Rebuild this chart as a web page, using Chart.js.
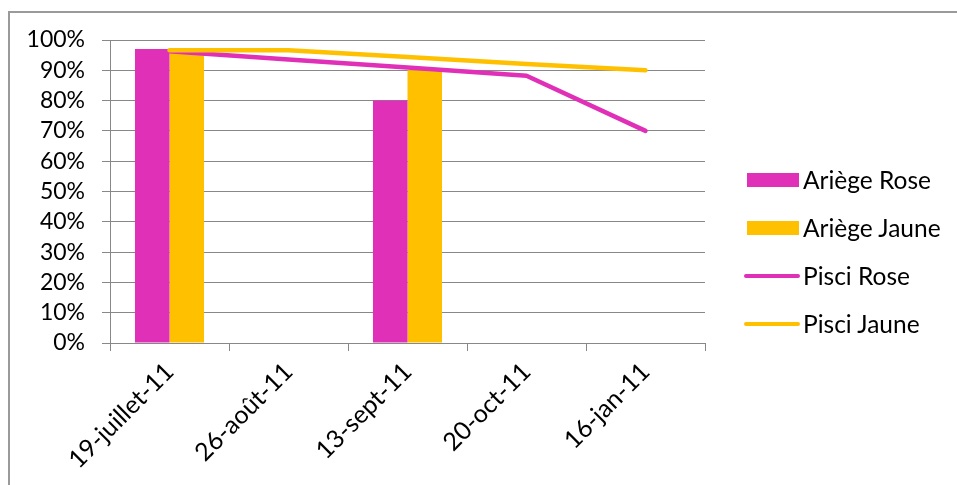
<!DOCTYPE html>
<html>
<head>
<meta charset="utf-8">
<script src="https://cdn.jsdelivr.net/npm/chart.js@4.4.1/dist/chart.umd.min.js"></script>
<style>
    body { margin: 0; background: #fff; overflow: hidden; }
    #wrap { position: relative; width: 957px; height: 485px; overflow: hidden; }
    #frame { position: absolute; left: 8px; top: 11px; width: 2000px; height: 2000px;
             border-left: 2px solid #9a9a9a; border-top: 2px solid #9a9a9a; }
    #chart { position: absolute; left: 0; top: 0; }
    #legend { position: absolute; left: 744px; top: 0; font-family: Lato, sans-serif; font-size: 24.5px; color: #000; }
    .item { position: absolute; left: 0; width: 220px; height: 30px; }
    .item span.txt { position: absolute; left: 59px; top: 0; line-height: 30px; white-space: nowrap; }
    .mark { position: absolute; }
</style>
</head>
<body>
<div id="wrap">
    <div id="frame"></div>
    <canvas id="chart" width="957" height="485"></canvas>
    <div id="legend"></div>
</div>
<script>
const categories = ['19-juillet-11', '26-août-11', '13-sept-11', '20-oct-11', '16-jan-11'];
const ariegeRose = [0.97, null, 0.80, null, null];
const ariegeJaune = [0.97, null, 0.90, null, null];
const pisciRose = [0.963, 0.936, 0.909, 0.882, 0.70];
const pisciJaune = [0.966, 0.966, 0.944, 0.921, 0.90];
const yTicks = [0, 0.1, 0.2, 0.3, 0.4, 0.5, 0.6, 0.7, 0.8, 0.9, 1];

const ROSE = '#E030B8';
const JAUNE = '#FFC000';
const GREY = '#888888';
const FONT = 'Lato, sans-serif';

document.addEventListener('DOMContentLoaded', function () {
    const ctx = document.getElementById('chart').getContext('2d');

    const datasets = [
        { type: 'bar', label: 'Ariège Rose', data: ariegeRose, backgroundColor: ROSE, order: 2 },
        { type: 'bar', label: 'Ariège Jaune', data: ariegeJaune, backgroundColor: JAUNE, order: 2 },
        { type: 'line', label: 'Pisci Rose', data: pisciRose, borderColor: ROSE, order: 1 },
        { type: 'line', label: 'Pisci Jaune', data: pisciJaune, borderColor: JAUNE, order: 0 }
    ];
    datasets.forEach(ds => {
        if (ds.type === 'bar') {
            ds.categoryPercentage = 0.58;
            ds.barPercentage = 1;
            ds.borderWidth = 0;
        } else {
            ds.borderWidth = 4.5;
            ds.pointRadius = 0;
            ds.borderCapStyle = 'round';
            ds.borderJoinStyle = 'round';
            ds.tension = 0;
            ds.fill = false;
        }
    });

    new Chart(ctx, {
        data: { labels: categories, datasets: datasets },
        options: {
            responsive: false,
            animation: false,
            devicePixelRatio: 1,
            layout: { padding: { left: 0, top: 40, right: 252, bottom: 0 } },
            plugins: { legend: { display: false }, tooltip: { enabled: false } },
            scales: {
                x: {
                    offset: true,
                    grid: { drawOnChartArea: false, drawTicks: true, tickLength: 8, color: GREY },
                    border: { display: true, color: GREY, width: 1 },
                    ticks: {
                        color: '#000', maxRotation: 45, minRotation: 45, padding: 6,
                        autoSkip: false, font: { family: FONT, size: 25 }
                    },
                    afterFit: s => { s.height = 142; }
                },
                y: {
                    min: 0, max: 1,
                    afterBuildTicks: s => { s.ticks = yTicks.map(v => ({ value: v })); },
                    grid: { color: GREY, tickLength: 8, drawTicks: true },
                    border: { display: true, color: GREY, width: 1 },
                    ticks: {
                        color: '#000', padding: 17, autoSkip: false, font: { family: FONT, size: 23 },
                        callback: v => Math.round(v * 100) + '%'
                    },
                    afterFit: s => { s.width = 110; }
                }
            }
        }
    });

    // legend built from the same datasets
    const legend = document.getElementById('legend');
    const centers = [180, 228, 276, 324];
    datasets.forEach((ds, i) => {
        const item = document.createElement('div');
        item.className = 'item';
        item.style.top = (centers[i] - 15) + 'px';
        const mark = document.createElement('div');
        mark.className = 'mark';
        if (ds.type === 'bar') {
            mark.style.left = '3px'; mark.style.top = '8px';
            mark.style.width = '52px'; mark.style.height = '14px';
            mark.style.background = ds.backgroundColor;
        } else {
            mark.style.left = '0px'; mark.style.top = '13px';
            mark.style.width = '56px'; mark.style.height = '4px';
            mark.style.borderRadius = '2px';
            mark.style.background = ds.borderColor;
        }
        const txt = document.createElement('span');
        txt.className = 'txt';
        txt.textContent = ds.label;
        item.appendChild(mark);
        item.appendChild(txt);
        legend.appendChild(item);
    });
});
</script>
</body>
</html>
